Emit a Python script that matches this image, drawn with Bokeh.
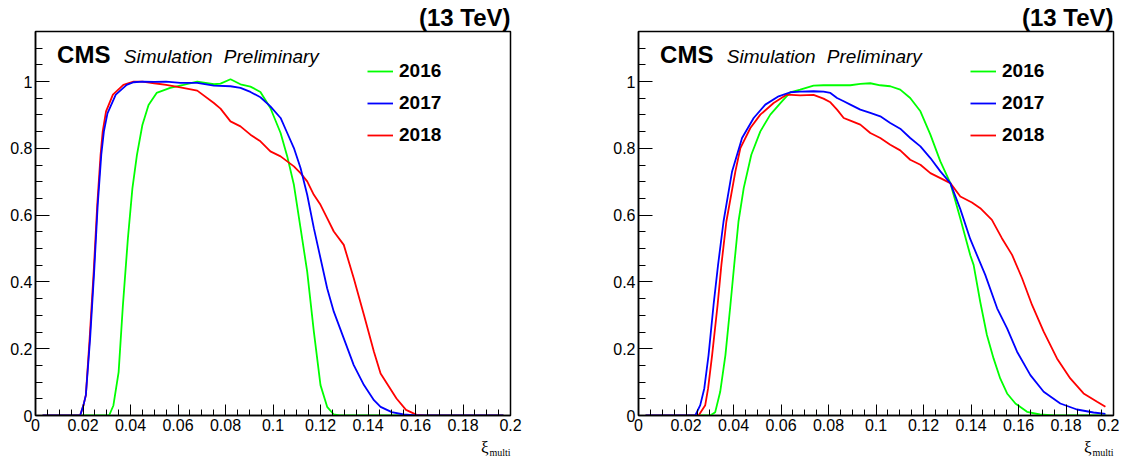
from bokeh.plotting import figure
from bokeh.models import Label, Legend, LegendItem, FixedTicker, Range1d
from bokeh.layouts import row, column
from bokeh.embed import file_html
from bokeh.resources import INLINE

# ---------------- data ----------------
years = ["2016", "2017", "2018"]
colors = ["#00ff00", "#0000ff", "#ff0000"]

# left panel
xa_2016 = [0.003, 0.031, 0.0328, 0.035, 0.0368, 0.0389, 0.0408, 0.0427, 0.045, 0.0476, 0.051,
           0.0567, 0.0623, 0.0681, 0.0751, 0.0779, 0.0821, 0.0863, 0.0905, 0.0947, 0.0989,
           0.1032, 0.106, 0.1088, 0.1116, 0.1144, 0.1172, 0.12, 0.1228, 0.1256, 0.128, 0.197]
ya_2016 = [0, 0, 0.03, 0.13, 0.33, 0.53, 0.68, 0.78, 0.87, 0.93, 0.966,
           0.981, 0.99, 1.0, 0.992, 0.994, 1.007, 0.992, 0.985, 0.969, 0.921,
           0.846, 0.776, 0.691, 0.561, 0.431, 0.251, 0.091, 0.026, 0.003, 0, 0]

xa_2017 = [0.003, 0.0188, 0.0202, 0.0212, 0.023, 0.0247, 0.0262, 0.0277, 0.0288, 0.0303, 0.0338,
           0.0384, 0.0413, 0.045, 0.05, 0.055, 0.061, 0.0681, 0.0751, 0.0821, 0.0863, 0.0905,
           0.0947, 0.0989, 0.1032, 0.106, 0.1088, 0.1116, 0.1144, 0.1172, 0.12, 0.1228, 0.1256,
           0.1298, 0.134, 0.1383, 0.1425, 0.1453, 0.15, 0.155, 0.16, 0.197]
ya_2017 = [0, 0, 0.031, 0.061, 0.231, 0.431, 0.631, 0.781, 0.851, 0.905, 0.961,
           0.99, 0.998, 1.0, 0.999, 1.0, 0.996, 0.996, 0.988, 0.986, 0.981, 0.969,
           0.953, 0.926, 0.891, 0.846, 0.801, 0.741, 0.661, 0.561, 0.471, 0.381, 0.311,
           0.231, 0.151, 0.091, 0.046, 0.026, 0.01, 0.003, 0, 0]

xa_2018 = [0.003, 0.0188, 0.0202, 0.0212, 0.0228, 0.0245, 0.026, 0.0274, 0.0283, 0.0297, 0.0326,
           0.037, 0.0413, 0.045, 0.05, 0.055, 0.061, 0.0681, 0.0751, 0.0779, 0.0821, 0.0863,
           0.0905, 0.0947, 0.0989, 0.1032, 0.106, 0.1088, 0.1116, 0.1144, 0.1172, 0.12, 0.1228,
           0.1256, 0.1298, 0.134, 0.1383, 0.1425, 0.1453, 0.152, 0.156, 0.1605, 0.164, 0.197]
ya_2018 = [0, 0, 0.031, 0.061, 0.231, 0.431, 0.631, 0.781, 0.851, 0.911, 0.961,
           0.99, 1.0, 1.0, 0.995, 0.99, 0.983, 0.973, 0.936, 0.919, 0.881, 0.866,
           0.841, 0.821, 0.791, 0.776, 0.761, 0.746, 0.726, 0.701, 0.661, 0.631, 0.591,
           0.551, 0.511, 0.411, 0.301, 0.191, 0.126, 0.051, 0.017, 0.002, 0, 0]

# right panel
xb_2016 = [0.003, 0.0302, 0.0323, 0.0344, 0.0366, 0.0387, 0.0403, 0.0421, 0.0443, 0.0475, 0.0513,
           0.0555, 0.0604, 0.0639, 0.0681, 0.0737, 0.0779, 0.0892, 0.0934, 0.0976, 0.1018,
           0.106, 0.1102, 0.1144, 0.1187, 0.1229, 0.1271, 0.1313, 0.1355, 0.1397, 0.1411,
           0.1439, 0.1467, 0.1495, 0.1523, 0.1552, 0.1587, 0.1636, 0.169, 0.175, 0.197]
yb_2016 = [0, 0, 0.01, 0.071, 0.181, 0.331, 0.451, 0.581, 0.681, 0.781, 0.851,
           0.901, 0.941, 0.968, 0.976, 0.988, 0.989, 0.989, 0.993, 0.995, 0.989,
           0.986, 0.976, 0.951, 0.911, 0.841, 0.761, 0.696, 0.59, 0.48, 0.451,
           0.34, 0.241, 0.171, 0.111, 0.066, 0.036, 0.011, 0.003, 0, 0]

xb_2017 = [0.003, 0.0239, 0.026, 0.0277, 0.0295, 0.0316, 0.0335, 0.0358, 0.0394, 0.0436, 0.0485,
           0.0534, 0.059, 0.0639, 0.0681, 0.0737, 0.0779, 0.0808, 0.0836, 0.0864, 0.0892,
           0.0934, 0.0976, 0.1018, 0.106, 0.1102, 0.1144, 0.1187, 0.1229, 0.1271, 0.1313,
           0.1355, 0.1397, 0.146, 0.151, 0.1552, 0.1594, 0.165, 0.1706, 0.1776, 0.1846,
           0.1916, 0.1966]
yb_2017 = [0, 0, 0.031, 0.081, 0.181, 0.331, 0.451, 0.581, 0.731, 0.831, 0.891,
           0.931, 0.956, 0.968, 0.97, 0.971, 0.97, 0.966, 0.951, 0.941, 0.931,
           0.916, 0.906, 0.896, 0.876, 0.859, 0.831, 0.806, 0.771, 0.731, 0.696,
           0.618, 0.528, 0.421, 0.321, 0.261, 0.191, 0.121, 0.071, 0.036, 0.018,
           0.009, 0.005]

xb_2018 = [0.003, 0.0253, 0.0281, 0.0293, 0.031, 0.0333, 0.0349, 0.037, 0.0408, 0.0429, 0.0471,
           0.0513, 0.0569, 0.0625, 0.0681, 0.0737, 0.0779, 0.0808, 0.0836, 0.0864, 0.0892,
           0.0934, 0.0976, 0.1018, 0.106, 0.1102, 0.1144, 0.1187, 0.1229, 0.1271, 0.1313,
           0.1355, 0.1404, 0.1439, 0.1488, 0.153, 0.1573, 0.1615, 0.1657, 0.1706, 0.1762,
           0.1818, 0.1874, 0.1931, 0.1966]
yb_2018 = [0, 0, 0.031, 0.081, 0.181, 0.331, 0.451, 0.581, 0.731, 0.801, 0.861,
           0.901, 0.936, 0.961, 0.959, 0.96, 0.949, 0.938, 0.916, 0.891, 0.883,
           0.871, 0.846, 0.831, 0.811, 0.794, 0.766, 0.751, 0.726, 0.711, 0.696,
           0.656, 0.638, 0.621, 0.586, 0.531, 0.481, 0.411, 0.331, 0.251, 0.171,
           0.111, 0.066, 0.041, 0.026]

x_ticks = [0, 0.02, 0.04, 0.06, 0.08, 0.1, 0.12, 0.14, 0.16, 0.18, 0.2]
x_tick_labels = ["0", "0.02", "0.04", "0.06", "0.08", "0.1", "0.12", "0.14", "0.16", "0.18", "0.2"]
y_ticks = [0, 0.2, 0.4, 0.6, 0.8, 1.0]
y_tick_labels = ["0", "0.2", "0.4", "0.6", "0.8", "1"]

FONT = "Liberation Sans"
SERIF = "Liberation Serif"
FRAME_W, FRAME_H = 475, 384
TOP, BOTTOM = 30, 22


def make_panel(series, border_left, border_right):
    p = figure(frame_width=FRAME_W, frame_height=FRAME_H,
               min_border_left=border_left, min_border_right=border_right,
               min_border_top=TOP, min_border_bottom=BOTTOM,
               x_range=Range1d(0, 0.2), y_range=Range1d(0, 1.15),
               output_backend="svg", toolbar_location=None, tools="")
    p.xgrid.visible = False
    p.ygrid.visible = False
    p.outline_line_color = "black"
    p.outline_line_width = 1.5
    p.background_fill_color = "white"
    p.border_fill_color = "white"

    p.title.text = "(13 TeV)"
    p.title.align = "right"
    p.title.text_font = FONT
    p.title.text_font_size = "24px"
    p.title.text_font_style = "bold"
    p.title.text_color = "black"
    p.title.standoff = 2
    p.title.vertical_align = "bottom"

    p.xaxis.ticker = FixedTicker(ticks=x_ticks,
                                 minor_ticks=[round(i * 0.005, 3) for i in range(41)])
    p.xaxis.major_label_overrides = dict(zip(x_ticks, x_tick_labels))
    p.yaxis.ticker = FixedTicker(ticks=y_ticks,
                                 minor_ticks=[round(i * 0.05, 2) for i in range(24)])
    p.yaxis.major_label_overrides = dict(zip(y_ticks, y_tick_labels))

    for ax, tin, tmin in ((p.xaxis, 11, 6), (p.yaxis, 14, 7)):
        ax.major_tick_in = tin
        ax.major_tick_out = 0
        ax.minor_tick_in = tmin
        ax.minor_tick_out = 0
        ax.major_tick_line_color = "black"
        ax.minor_tick_line_color = "black"
        ax.axis_line_color = "black"
        ax.axis_line_width = 1.5
        ax.major_label_text_font = FONT
        ax.major_label_text_font_size = "16px"
        ax.major_label_text_color = "black"
    p.xaxis.major_label_standoff = 3
    p.yaxis.major_label_standoff = 3

    rmap = {}
    for i in [0, 2, 1]:
        xs, ys = series[i]
        rmap[i] = p.line(xs, ys, line_color=colors[i], line_width=1.8)

    legend = Legend(items=[LegendItem(label=years[i], renderers=[rmap[i]]) for i in range(3)],
                    location=(332, 269), orientation="vertical",
                    label_text_font=FONT, label_text_font_size="19px",
                    label_text_font_style="bold", label_text_color="black",
                    glyph_width=26, glyph_height=20, label_height=20,
                    label_standoff=6, spacing=10, padding=0, margin=0,
                    border_line_alpha=0, background_fill_alpha=0)
    p.add_layout(legend)

    # header texts, vertically centred on their capitals
    p.add_layout(Label(x=0.0091, y=1.081, text="CMS", text_font=FONT,
                       text_font_size="24px", text_font_style="bold",
                       text_baseline="middle", text_color="black"))
    p.add_layout(Label(x=0.0372, y=1.076, text="Simulation", text_font=FONT,
                       text_font_size="19px", text_font_style="italic",
                       text_baseline="middle", text_color="black"))
    p.add_layout(Label(x=0.0793, y=1.076, text="Preliminary", text_font=FONT,
                       text_font_size="19px", text_font_style="italic",
                       text_baseline="middle", text_color="black"))
    return p


left = make_panel([(xa_2016, ya_2016), (xa_2017, ya_2017), (xa_2018, ya_2018)], 35, 53)
right = make_panel([(xb_2016, yb_2016), (xb_2017, yb_2017), (xb_2018, yb_2018)], 75, 6)

# strip below the panels holding the x-axis titles (xi_multi), right-aligned to each frame
STRIP_W, STRIP_H = 1119, 26
strip = figure(width=STRIP_W, height=STRIP_H, x_range=Range1d(0, STRIP_W),
               y_range=Range1d(0, STRIP_H), min_border=0,
               x_axis_location=None, y_axis_location=None,
               output_backend="svg", toolbar_location=None, tools="")
strip.xgrid.visible = False
strip.ygrid.visible = False
strip.outline_line_color = None
strip.background_fill_color = "white"
strip.border_fill_color = "white"
for frame_right in (35 + FRAME_W, 563 + 75 + FRAME_W):
    strip.add_layout(Label(x=frame_right - 22, y=16.5, text="ξ", text_font=SERIF,
                           text_font_size="17px", text_align="right",
                           text_baseline="middle", text_color="black"))
    strip.add_layout(Label(x=frame_right, y=11, text="multi", text_font=SERIF,
                           text_font_size="10px", text_align="right",
                           text_baseline="middle", text_color="black"))

layout = column(row(left, right), strip)
open("out.html", "w").write(file_html(layout, INLINE))
